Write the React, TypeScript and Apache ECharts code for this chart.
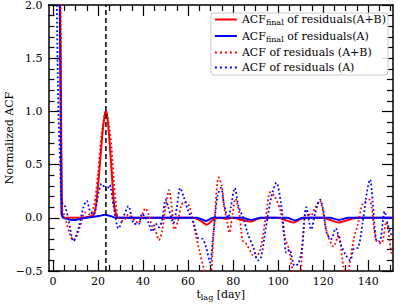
import React, { useEffect, useRef } from "react";
import * as echarts from "echarts";

// ---- axis setup ----
const X_MIN = -2;
const X_MAX = 151;
const Y_MIN = -0.5;
const Y_MAX = 2.0;
const xMajorTicks = [0, 20, 40, 60, 80, 100, 120, 140];
const xMinorTicks = [5, 10, 15, 25, 30, 35, 45, 50, 55, 65, 70, 75, 85, 90, 95, 105, 110, 115, 125, 130, 135, 145, 150];
const peakLag = 23.5;

// ---- series names ----
const nameFinalAB = "ACFfinal of residuals(A+B)";
const nameFinalA = "ACFfinal of residuals(A)";
const nameAB = "ACF of residuals (A+B)";
const nameA = "ACF of residuals (A)";

// ---- ACF_final (A+B), red solid ----
const finalABLag = [0, 3.1, 3.9, 4.5, 8, 12, 16, 18, 19, 20, 21, 22, 23, 23.5, 24, 25, 26, 27, 28, 29, 35, 45, 55, 62, 65, 68.3, 71, 74, 77, 80, 84, 87.8, 91, 95, 100, 103, 107, 110, 114, 120, 123, 126.8, 131, 135, 140, 145, 151];
const finalABVal = [6, 2.3, 0.04, 0, 0, 0, 0.01, 0.03, 0.1, 0.3, 0.55, 0.8, 0.97, 1.0, 0.97, 0.75, 0.45, 0.15, 0.03, 0, 0, 0, 0, 0, -0.02, -0.065, -0.02, 0, -0.01, 0, -0.02, -0.035, -0.01, 0, 0, -0.02, -0.045, -0.01, 0, 0, -0.02, -0.045, -0.02, 0, 0, 0, 0];

// ---- ACF_final (A), blue solid ----
const finalALag = [0, 2.9, 3.8, 4.5, 6, 8, 10, 12, 15, 18, 21, 23, 25, 28, 32, 40, 55, 64, 68, 71, 75, 84, 88, 92, 100, 104, 107.5, 111, 120, 123, 127, 131, 140, 151];
const finalAVal = [6, 2.3, 0.04, 0.005, -0.01, -0.02, -0.02, -0.01, 0, 0.01, 0.02, 0.028, 0.02, 0, 0, 0, 0, 0, -0.03, 0, 0, 0, -0.02, 0, 0, 0, -0.025, 0, 0, 0, -0.02, 0, 0, 0];

// ---- ACF (A+B), red dotted ----
const acfABLag = [0, 3.2, 4.0, 5.4, 7.6, 9.1, 10.5, 12, 14.3, 16.5, 18, 19, 20, 21, 22, 23, 23.5, 24, 25, 26, 27, 28, 29, 31.2, 33.5, 36.5, 38, 40, 41, 42.5, 44, 45.5, 47, 48.5, 50, 51.6, 52.5, 54, 55.5, 57, 58.5, 60.5, 63, 65, 67, 68.5, 70, 71.5, 73.6, 75, 76, 77.5, 78.3, 79.7, 81, 82.7, 84.2, 86, 88.6, 90, 92, 94.5, 96.5, 98.5, 101.2, 102.7, 104.9, 106, 107.5, 109.5, 111, 112.5, 114.5, 116.5, 118.5, 120, 121.7, 124.6, 126.8, 129, 130.5, 132, 133.6, 135.5, 137.3, 138.8, 140.5, 141.5, 143.5, 145.8, 148, 150.3, 151];
const acfABVal = [6, 2.2, 0.1, 0.0, -0.16, -0.21, -0.17, -0.08, 0.05, 0.03, 0.1, 0.22, 0.42, 0.66, 0.85, 0.98, 1.0, 0.97, 0.85, 0.66, 0.35, 0.12, 0.0, -0.03, 0.03, -0.03, -0.05, 0.05, 0.09, 0.03, -0.08, -0.12, -0.21, -0.12, 0.1, 0.26, 0.15, -0.11, -0.03, 0.12, 0.15, 0.11, -0.12, -0.31, -0.48, -0.6, -0.55, -0.1, 0.38, 0.3, 0.1, -0.05, -0.14, 0.03, 0.18, 0.05, -0.21, -0.25, -0.35, -0.37, -0.3, 0.0, 0.24, 0.2, 0.05, -0.17, -0.3, -0.45, -0.55, -0.55, -0.2, 0.06, 0.02, 0.1, 0.16, 0.05, -0.14, -0.27, -0.16, -0.46, -0.55, -0.4, -0.2, -0.05, 0.12, 0.15, 0.17, 0.1, -0.21, -0.24, -0.04, -0.33, -0.35];

// ---- ACF (A), blue dotted ----
const acfALag = [0, 1.7, 2.4, 3.2, 3.9, 5.3, 6.9, 9.1, 11.3, 13.5, 15, 16.5, 18, 20.2, 21.6, 22.8, 23.9, 25.1, 26.9, 29.1, 31.3, 33.5, 35.7, 38, 39.6, 41, 42.5, 44, 45.5, 47, 48.5, 50, 51.2, 53.5, 55, 56.5, 58, 60, 62.5, 64.5, 66.5, 68, 69.8, 71, 73, 74.6, 76, 77.8, 79, 80.7, 82.5, 84.5, 86.5, 89, 91, 92.3, 94.5, 97, 99.2, 101.2, 102.7, 103.6, 105, 107.3, 109, 110.5, 112.5, 114.7, 116.5, 118.6, 120, 121.5, 123.5, 125.5, 127.8, 130, 132, 133.6, 135.5, 137.5, 139.5, 140.8, 142, 143.5, 145, 147.3, 148.5, 150, 151];
const acfAVal = [5, 2.0, 1.0, 0.5, 0.15, 0.11, -0.02, -0.22, -0.1, 0.1, 0.16, 0.06, 0.03, 0.23, 0.32, 0.29, 0.26, 0.31, 0.11, -0.1, 0.01, 0.11, -0.05, -0.06, 0.04, 0.0, -0.05, -0.13, -0.05, -0.09, -0.02, 0.17, 0.1, -0.05, 0.1, 0.28, 0.2, 0.07, -0.05, -0.19, -0.2, -0.28, -0.42, -0.2, 0.2, 0.28, 0.12, 0.0, 0.1, 0.28, 0.1, 0.0, -0.15, -0.28, -0.4, -0.38, -0.1, 0.2, 0.33, 0.14, -0.15, -0.33, -0.3, -0.45, -0.43, -0.3, 0.1, -0.11, 0.05, 0.17, 0.08, -0.14, -0.2, -0.1, -0.25, -0.35, -0.4, -0.29, -0.28, -0.05, 0.25, 0.36, 0.15, -0.21, -0.22, 0.06, -0.05, -0.15, -0.17];

const FONT = "'DejaVu Serif', serif";
const RED = "#ff0000";
const BLUE = "#0000ff";

const zip = (xs: number[], ys: number[]) => xs.map((x, i) => [x, ys[i]]);

const subRich = {
  sub: { fontFamily: FONT, fontSize: 8, color: "#000", padding: [6, 0, 0, 0] },
};

const DOT_ICON = "path://M0,0h2v2h-2z M5,0h2v2h-2z M10,0h2v2h-2z M15,0h2v2h-2z M20,0h2v2h-2z";

function legendLabel(name: string): string {
  if (name.startsWith("ACFfinal")) return "ACF{sub|final}" + name.slice(8);
  return name;
}

export default function App() {
  const ref = useRef<HTMLDivElement>(null);
  useEffect(() => {
    if (!ref.current) return;
    const chart = echarts.init(ref.current, null, { renderer: "svg" });
    const tickStyle = { color: "#000", width: 1.2 };
    const xBase = {
      type: "value",
      min: X_MIN,
      max: X_MAX,
      splitLine: { show: false },
    };
    const yBase = {
      type: "value",
      min: Y_MIN,
      max: Y_MAX,
      interval: 0.5,
      splitLine: { show: false },
      minorSplitLine: { show: false },
      axisLine: { show: true, onZero: false, lineStyle: { color: "#000", width: 1.5 } },
      axisTick: { show: true, inside: true, length: 11, lineStyle: tickStyle },
      minorTick: { show: true, splitNumber: 5, length: 6, lineStyle: tickStyle },
    };
    const dotted = [1.8, 2.4];
    chart.setOption({
      animation: false,
      grid: { left: 48.5, right: 14, top: 5, bottom: 34, containLabel: false, outerBoundsMode: "none" },
      legend: {
        data: [
          { name: nameFinalAB, icon: "rect", itemStyle: { color: RED } },
          { name: nameFinalA, icon: "rect", itemStyle: { color: BLUE } },
          { name: nameAB, icon: DOT_ICON, itemStyle: { color: RED } },
          { name: nameA, icon: DOT_ICON, itemStyle: { color: BLUE } },
        ],
        orient: "vertical",
        right: 19,
        top: 13,
        itemWidth: 22,
        itemHeight: 2,
        itemGap: 4,
        padding: [1, 2, 2, 4],
        backgroundColor: "rgba(255,255,255,0.85)",
        borderColor: "#cccccc",
        borderWidth: 1,
        borderRadius: 3,
        formatter: legendLabel,
        textStyle: { fontFamily: FONT, fontSize: 11, color: "#000", rich: subRich },
      },
      xAxis: [
        {
          ...xBase,
          position: "bottom",
          axisLine: { show: true, onZero: false, lineStyle: { color: "#000", width: 1.5 } },
          axisTick: { show: true, inside: true, length: 11, customValues: xMajorTicks, lineStyle: tickStyle },
          axisLabel: { show: true, customValues: xMajorTicks, fontFamily: FONT, fontSize: 11, color: "#000", margin: 5 },
          name: "t{sub|lag} [day]",
          nameLocation: "middle",
          nameGap: 16,
          nameMoveOverlap: false,
          nameTextStyle: { fontFamily: FONT, fontSize: 11, color: "#000", rich: subRich },
        },
        {
          ...xBase,
          position: "bottom",
          axisLine: { show: false, onZero: false },
          axisTick: { show: true, inside: true, length: 6, customValues: xMinorTicks, lineStyle: tickStyle },
          axisLabel: { show: false },
        },
        {
          ...xBase,
          position: "top",
          axisLine: { show: true, onZero: false, lineStyle: { color: "#000", width: 1.5 } },
          axisTick: { show: true, inside: true, length: 11, customValues: xMajorTicks, lineStyle: tickStyle },
          axisLabel: { show: false },
        },
        {
          ...xBase,
          position: "top",
          axisLine: { show: false, onZero: false },
          axisTick: { show: true, inside: true, length: 6, customValues: xMinorTicks, lineStyle: tickStyle },
          axisLabel: { show: false },
        },
      ],
      yAxis: [
        {
          ...yBase,
          position: "left",
          axisLabel: {
            show: true,
            fontFamily: FONT,
            fontSize: 11,
            color: "#000",
            margin: 6,
            formatter: (v: number) => (v < 0 ? "\u2212" + Math.abs(v).toFixed(1) : v.toFixed(1)),
          },
          name: "Normalized ACF",
          nameLocation: "middle",
          nameGap: 34,
          nameMoveOverlap: false,
          nameTextStyle: { fontFamily: FONT, fontSize: 11, color: "#000" },
        },
        {
          ...yBase,
          position: "right",
          axisLabel: { show: false },
        },
      ],
      series: [
        {
          type: "line",
          name: nameFinalAB,
          data: zip(finalABLag, finalABVal),
          symbol: "none",
          smooth: 0.2,
          lineStyle: { color: RED, width: 2 },
          itemStyle: { color: RED },
        },
        {
          type: "line",
          name: nameFinalA,
          data: zip(finalALag, finalAVal),
          symbol: "none",
          smooth: 0.2,
          lineStyle: { color: BLUE, width: 2 },
          itemStyle: { color: BLUE },
        },
        {
          type: "line",
          name: nameAB,
          data: zip(acfABLag, acfABVal),
          symbol: "none",
          smooth: 0.3,
          lineStyle: { color: RED, width: 1.8, type: dotted },
          itemStyle: { color: RED },
        },
        {
          type: "line",
          name: nameA,
          data: zip(acfALag, acfAVal),
          symbol: "none",
          smooth: 0.3,
          lineStyle: { color: BLUE, width: 1.8, type: dotted },
          itemStyle: { color: BLUE },
        },
        {
          type: "line",
          name: "peak",
          data: [[peakLag, Y_MIN], [peakLag, Y_MAX]],
          symbol: "none",
          lineStyle: { color: "#000", width: 1.5, type: [5, 3] },
          itemStyle: { color: "#000" },
          silent: true,
        },
      ],
    });
    return () => chart.dispose();
  }, []);
  return (
    <div
      ref={ref}
      style={{ position: "fixed", left: 0, top: 0, width: 407, height: 305, background: "#fff" }}
    />
  );
}
